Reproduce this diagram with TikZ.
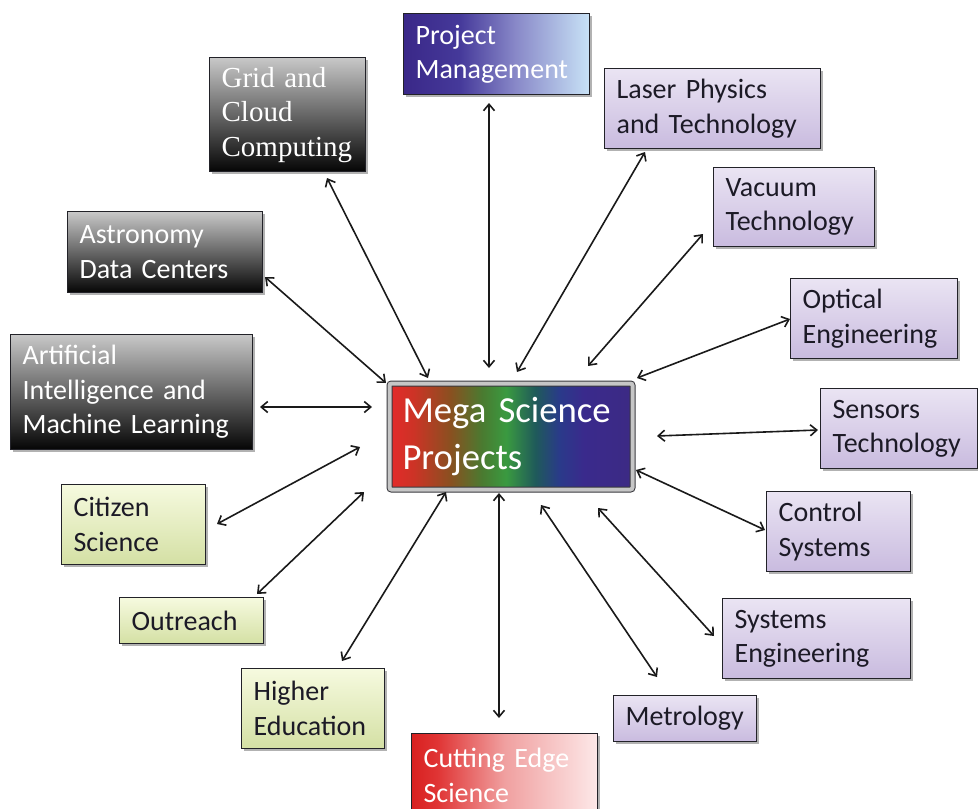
\documentclass[tikz,border=0pt]{standalone}
\usepackage{fontspec}
\setmainfont{Carlito}[WordSpace=0.8]
\newfontfamily\camfont{Liberation Serif}[WordSpace=0.8]
\usetikzlibrary{arrows.meta,shadows}
\definecolor{boxline}{HTML}{222228}
\definecolor{arrowc}{HTML}{1A1A1A}
\definecolor{darktext}{HTML}{1C1A26}
\definecolor{purtop}{HTML}{EAE4F3}
\definecolor{purbot}{HTML}{C9BBDF}
\definecolor{grtop}{HTML}{F6FADF}
\definecolor{grbot}{HTML}{D4E0A4}
\definecolor{gytop}{HTML}{C8C8C8}
\definecolor{gybot}{HTML}{050505}
\pgfdeclarehorizontalshading{rainbow}{100bp}{%
 color(0bp)=(rgb,255:red,229;green,42;blue,42);
 color(25bp)=(rgb,255:red,229;green,42;blue,42);
 color(30bp)=(rgb,255:red,204;green,51;blue,38);
 color(37.5bp)=(rgb,255:red,138;green,80;blue,32);
 color(44bp)=(rgb,255:red,74;green,122;blue,48);
 color(49bp)=(rgb,255:red,58;green,154;blue,64);
 color(55bp)=(rgb,255:red,31;green,90;blue,90);
 color(60bp)=(rgb,255:red,42;green,58;blue,138);
 color(65bp)=(rgb,255:red,58;green,42;blue,140);
 color(75bp)=(rgb,255:red,60;green,42;blue,132);
 color(100bp)=(rgb,255:red,60;green,42;blue,132)}
\pgfdeclarehorizontalshading{pmshade}{100bp}{%
 color(0bp)=(rgb,255:red,58;green,40;blue,136);
 color(25bp)=(rgb,255:red,58;green,40;blue,136);
 color(40bp)=(rgb,255:red,69;green,57;blue,154);
 color(55bp)=(rgb,255:red,136;green,136;blue,200);
 color(75bp)=(rgb,255:red,200;green,226;blue,246);
 color(100bp)=(rgb,255:red,200;green,226;blue,246)}
\pgfdeclarehorizontalshading{redshade}{100bp}{%
 color(0bp)=(rgb,255:red,216;green,32;blue,32);
 color(25bp)=(rgb,255:red,216;green,32;blue,32);
 color(32bp)=(rgb,255:red,224;green,53;blue,53);
 color(50bp)=(rgb,255:red,240;green,160;blue,160);
 color(75bp)=(rgb,255:red,253;green,232;blue,232);
 color(100bp)=(rgb,255:red,253;green,232;blue,232)}
\tikzset{
 box/.style={draw=boxline, line width=1.2pt, anchor=north west, align=left,
   inner xsep=12pt, inner ysep=0pt, font=\fontsize{28}{34.5}\selectfont,
   drop shadow={shadow xshift=2pt, shadow yshift=-2pt, opacity=0.3, fill=black}},
 purbox/.style={box, top color=purtop, bottom color=purbot, text=darktext},
 grbox/.style={box, top color=grtop, bottom color=grbot, text=darktext},
 gybox/.style={box, top color=gytop, bottom color=gybot, text=white},
 conn/.style={draw=arrowc, line width=1.6pt,
   {Straight Barb[length=6.5pt,width=11pt]}-{Straight Barb[length=6.5pt,width=11pt]}}
}
\begin{document}
\begin{tikzpicture}[x=1pt,y=-1pt]
\useasboundingbox (0,0) rectangle (978,809);
\fill[white] (0,0) rectangle (978,809);

% central node
\node[anchor=north west, minimum width=243, minimum height=106, inner xsep=13pt, inner ysep=0pt,
  text width=217pt, align=left, shading=rainbow, draw=boxline!90, line width=1pt,
  double=gray!45, double distance=4pt, rounded corners=2pt, text=white,
  font=\fontsize{36.7}{47}\selectfont] (mega) at (389,383) {Mega Science\\Projects};

% boxes
\node[box, shading=pmshade, text=white, minimum width=186, minimum height=81, text width=162pt] (pm) at (403,13) {Project\\Management};
\node[gybox, minimum width=156, minimum height=114, text width=132pt, font=\camfont\fontsize{29}{34.5}\selectfont] (grid) at (209,57) {Grid and\\Cloud\\Computing};
\node[purbox, minimum width=216, minimum height=80, text width=192pt] (laser) at (604,68) {Laser Physics\\and Technology};
\node[purbox, minimum width=161, minimum height=79, text width=137pt] (vac) at (713,167) {Vacuum\\Technology};
\node[purbox, minimum width=167, minimum height=80, text width=143pt] (opt) at (790,278) {Optical\\Engineering};
\node[purbox, minimum width=157, minimum height=80, text width=133pt] (sens) at (820,388) {Sensors\\Technology};
\node[purbox, minimum width=144, minimum height=80, text width=120pt] (ctrl) at (766,491) {Control\\Systems};
\node[purbox, minimum width=188, minimum height=80, text width=164pt] (sys) at (722,598) {Systems\\Engineering};
\node[purbox, minimum width=143, minimum height=46, text width=119pt] (metro) at (613,695) {Metrology};
\node[box, shading=redshade, text=white, minimum width=186, minimum height=84, text width=162pt] (cut) at (411,733) {Cutting Edge\\Science};
\node[grbox, minimum width=143, minimum height=80, text width=119pt] (higher) at (241,668) {Higher\\Education};
\node[grbox, minimum width=144, minimum height=46, text width=120pt] (outr) at (119,597) {Outreach};
\node[grbox, minimum width=144, minimum height=80, text width=120pt] (cit) at (61,484) {Citizen\\Science};
\node[gybox, minimum width=242, minimum height=115, text width=218pt] (ai) at (10,334) {Artificial\\Intelligence and\\Machine Learning};
\node[gybox, minimum width=195, minimum height=81, text width=171pt] (astro) at (67,211) {Astronomy\\Data Centers};

% connector end points
\coordinate (pmA) at (489,103);   \coordinate (pmB) at (489,368);
\coordinate (gridA) at (327,178); \coordinate (gridB) at (428,378);
\coordinate (laserA) at (645,152);\coordinate (laserB) at (517,372);
\coordinate (vacA) at (703,234);  \coordinate (vacB) at (588,366);
\coordinate (optA) at (790,319);  \coordinate (optB) at (637,378);
\coordinate (sensA) at (818,430); \coordinate (sensB) at (657,436);
\coordinate (ctrlA) at (765,530); \coordinate (ctrlB) at (636,470);
\coordinate (sysA) at (714,636);  \coordinate (sysB) at (598,508);
\coordinate (metroA) at (657,677);\coordinate (metroB) at (541,505);
\coordinate (cutA) at (499,718);  \coordinate (cutB) at (499,493);
\coordinate (higherA) at (342,661);\coordinate (higherB) at (446,492);
\coordinate (outrA) at (257,594); \coordinate (outrB) at (364,492);
\coordinate (citA) at (217,524);  \coordinate (citB) at (360,447);
\coordinate (aiA) at (260,407);   \coordinate (aiB) at (372,407);
\coordinate (astroA) at (265,277);\coordinate (astroB) at (386,383);

\foreach \n in {pm,grid,laser,vac,opt,sens,ctrl,sys,metro,cut,higher,outr,cit,ai,astro}
  \draw[conn] (\n A) -- (\n B);
\end{tikzpicture}
\end{document}
